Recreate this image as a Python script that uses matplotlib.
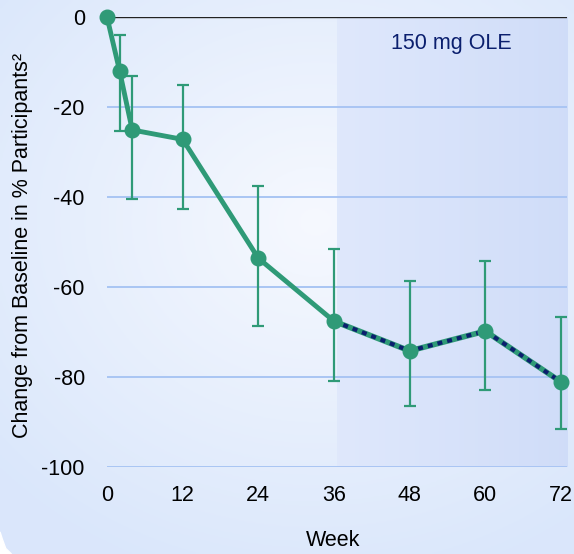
import numpy as np
import matplotlib.pyplot as plt
from matplotlib.patches import Polygon

plt.rcParams['font.family'] = ['Liberation Sans', 'DejaVu Sans']

# data
weeks = [0, 2, 4, 12, 24, 36, 48, 60, 72]
change = [0, -12, -25.1, -27.2, -53.6, -67.6, -74.2, -69.8, -81.1]
err_hi = [None, -4.0, -13.1, -15.1, -37.6, -51.6, -58.7, -54.2, -66.7]
err_lo = [None, -25.3, -40.4, -42.7, -68.7, -80.9, -86.4, -82.9, -91.6]
yticks = [0, -20, -40, -60, -80, -100]
xticks = [0, 12, 24, 36, 48, 60, 72]
ole_start = 36.4
ole_label = "150 mg OLE"

green = '#2f9a77'
navy = '#0b1f6e'
grid_c = '#a9c5f3'
fs = 15.5

fig = plt.figure(figsize=(5.74, 5.54), dpi=100)

# background gradient panel
bg = fig.add_axes([0, 0, 1, 1], zorder=-10)
yy, xx = np.mgrid[0:1:200j, 0:1:200j]
d = np.sqrt(((xx - 0.55) / 1.0) ** 2 + ((yy - 0.6) / 0.9) ** 2)
d = np.clip(d / 0.75, 0, 1)
c0 = np.array([0.965, 0.975, 0.998])
c1 = np.array([0.855, 0.905, 0.985])
img = c0[None, None, :] * (1 - d[..., None]) + c1[None, None, :] * d[..., None]
bg.imshow(img, extent=[0, 1, 0, 1], origin='lower', aspect='auto')
bg.add_patch(Polygon([[0, 0], [0, 0.04], [0.004, 0.027], [0.01, 0.01], [0.02, 0.0]],
                     closed=True, color='white', transform=bg.transAxes))
bg.set_xlim(0, 1)
bg.set_ylim(0, 1)
bg.axis('off')

ax = fig.add_axes([107 / 574, 87 / 554, 460 / 574, 450 / 554])
ax.patch.set_alpha(0)
ax.set_xlim(0, 72.95)
ax.set_ylim(-100, 0)

# OLE shaded region
shade = np.linspace(0, 1, 100)[None, :]
sc0 = np.array([0.875, 0.91, 0.987])
sc1 = np.array([0.815, 0.865, 0.975])
simg = sc0[None, None, :] * (1 - shade[..., None]) + sc1[None, None, :] * shade[..., None]
simg = np.repeat(simg, 2, axis=0)
ax.imshow(simg, extent=[ole_start, 72.95, -100, 0], aspect='auto', zorder=0)
ax.text((ole_start + 72.95) / 2, -6.0, ole_label, color=navy, fontsize=fs,
        ha='center', va='center')

for y in yticks[1:]:
    ax.axhline(y, color=grid_c, lw=1.4, zorder=1)
ax.axhline(0, color='#222222', lw=1.0, zorder=1)

# error bars
for w, c, hi, lo in zip(weeks, change, err_hi, err_lo):
    if hi is None:
        continue
    ax.errorbar([w], [c], yerr=[[c - lo], [hi - c]], fmt='none', ecolor=green,
                elinewidth=1.6, capsize=4.5, capthick=1.6, zorder=2, clip_on=False)

# main line
n = weeks.index(36)
ax.plot(weeks[:n + 1], change[:n + 1], color=green, lw=3.5, zorder=3, clip_on=False,
        solid_capstyle='round')
ax.plot(weeks[n:], change[n:], color=green, lw=4, zorder=3, clip_on=False)
ax.plot(weeks[n:], change[n:], color=navy, lw=3, ls=(0, (1.2, 1.2)), zorder=4, clip_on=False)
ax.plot(weeks, change, 'o', color=green, ms=10.5, zorder=5, clip_on=False)

ax.set_xticks(xticks)
ax.set_yticks(yticks)
ax.set_yticklabels([str(v) for v in yticks])
ax.tick_params(length=0, labelsize=fs)
ax.tick_params(axis='y', pad=16)
ax.tick_params(axis='x', pad=13)
for s in ax.spines.values():
    s.set_visible(False)

fig.text(333 / 574, 1 - 540 / 554, "Week", fontsize=fs, ha='center', va='center')
fig.text(23 / 574, 1 - 246 / 554, "Change from Baseline in % Participants²", fontsize=fs,
         rotation=90, ha='center', va='center')

fig.savefig('out.png', dpi=100)
